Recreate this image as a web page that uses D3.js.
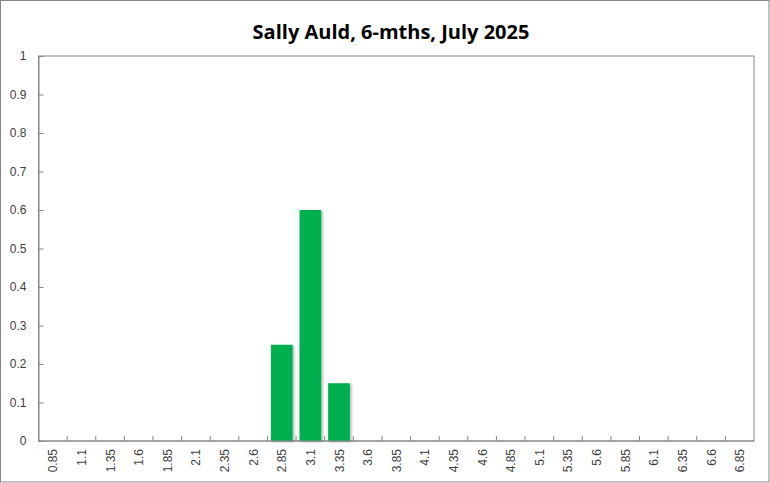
<!DOCTYPE html>
<html>
<head>
<meta charset="utf-8">
<script src="https://cdn.jsdelivr.net/npm/d3@7"></script>
<style>
    body { margin: 0; background: #fff; }
    .tick text { font-family: "Liberation Sans", Arial, sans-serif; font-size: 12px; fill: #404040; }
</style>
</head>
<body>
<div id="chart"></div>
<script>
// chart data
let categories = ['0.85', '1.1', '1.35', '1.6', '1.85', '2.1', '2.35', '2.6', '2.85', '3.1', '3.35', '3.6',
    '3.85', '4.1', '4.35', '4.6', '4.85', '5.1', '5.35', '5.6', '5.85', '6.1', '6.35', '6.6', '6.85'];
let values = [0, 0, 0, 0, 0, 0, 0, 0, 0.25, 0.6, 0.15, 0, 0, 0, 0, 0, 0, 0, 0, 0, 0, 0, 0, 0, 0];
let yTicks = [0, 0.1, 0.2, 0.3, 0.4, 0.5, 0.6, 0.7, 0.8, 0.9, 1];
let title = 'Sally Auld, 6-mths, July 2025';

let W = 770, H = 483;
let margin = {top: 56, right: 16, bottom: 42, left: 38.5};
let width = W - margin.left - margin.right;
let height = H - margin.top - margin.bottom;

let svg = d3.select('#chart').append('svg')
    .attr('width', W)
    .attr('height', H);

// bar shadow
let defs = svg.append('defs');
let filter = defs.append('filter').attr('id', 'shadow')
    .attr('x', '-20%').attr('y', '-20%').attr('width', '150%').attr('height', '150%');
filter.append('feDropShadow')
    .attr('dx', 1.5).attr('dy', 1)
    .attr('stdDeviation', 1.2)
    .attr('flood-color', '#000')
    .attr('flood-opacity', 0.3);

// outer frame
svg.append('rect')
    .attr('x', 0.5).attr('y', 0.5)
    .attr('width', W - 1.5).attr('height', H - 1.5)
    .attr('fill', '#fff')
    .attr('stroke', '#868686');

// title
svg.append('text')
    .attr('x', 391)
    .attr('y', 39)
    .attr('text-anchor', 'middle')
    .style('font-family', '"Open Sans", "Noto Sans", sans-serif')
    .style('font-weight', 'bold')
    .style('font-size', '20px')
    .attr('fill', '#000')
    .text(title);

let g = svg.append('g')
    .attr('transform', `translate(${margin.left}, ${margin.top})`);

// scales
let xScale = d3.scaleBand()
    .domain(categories)
    .range([0, width])
    .paddingInner(0.24)
    .paddingOuter(0.12);

let xBoundary = d3.scaleLinear()
    .domain([0, categories.length])
    .range([0, width]);

let yScale = d3.scaleLinear()
    .domain([0, 1])
    .range([height, 0]);

// plot area frame
g.append('rect')
    .attr('x', 0).attr('y', 0)
    .attr('width', width).attr('height', height)
    .attr('fill', 'none')
    .attr('stroke', '#868686');

// bars
g.selectAll('rect.bar').data(values)
    .enter().append('rect')
    .attr('class', 'bar')
    .attr('x', (d, i) => xScale(categories[i]))
    .attr('y', d => yScale(d))
    .attr('width', xScale.bandwidth())
    .attr('height', d => height - yScale(d))
    .attr('fill', '#00B050')
    .attr('filter', 'url(#shadow)');

// y axis
let yAxis = g.append('g')
    .attr('class', 'axis y-axis')
    .call(d3.axisLeft(yScale).tickValues(yTicks).tickFormat(d => d3.format('')(+d.toFixed(1))).tickSize(-5).tickPadding(12));
yAxis.select('.domain').attr('stroke', '#868686');
yAxis.selectAll('.tick line').attr('stroke', '#868686');

// x axis: tick marks on category boundaries, labels at band centres
let xAxisGroup = g.append('g')
    .attr('class', 'axis x-axis')
    .attr('transform', `translate(0, ${height})`);

xAxisGroup.append('line')
    .attr('x1', 0).attr('x2', width)
    .attr('stroke', '#868686');

xAxisGroup.selectAll('line.btick').data(d3.range(1, categories.length))
    .enter().append('line')
    .attr('class', 'btick')
    .attr('x1', d => xBoundary(d)).attr('x2', d => xBoundary(d))
    .attr('y1', 0).attr('y2', -5)
    .attr('stroke', '#868686');

xAxisGroup.selectAll('text').data(categories)
    .enter().append('text')
    .attr('class', 'tick')
    .attr('transform', d => `translate(${xScale(d) + xScale.bandwidth() / 2 + 4.5}, 8) rotate(-90)`)
    .attr('text-anchor', 'end')
    .style('font-family', '"Liberation Sans", Arial, sans-serif')
    .style('font-size', '12px')
    .attr('fill', '#404040')
    .text(d => d);
</script>
</body>
</html>
